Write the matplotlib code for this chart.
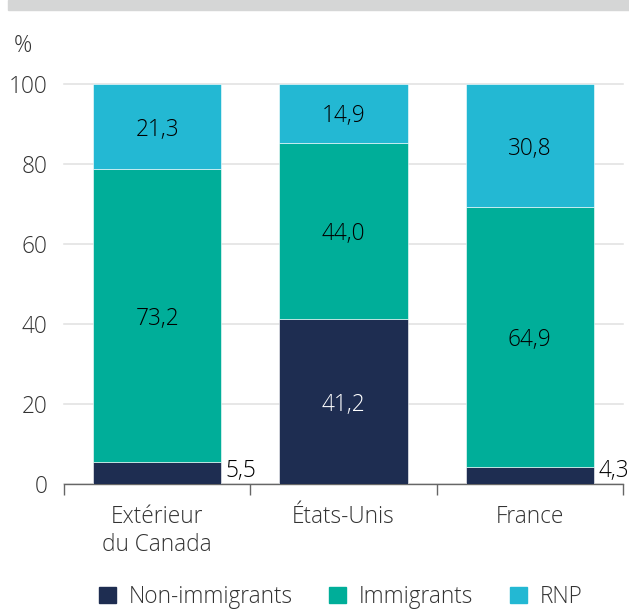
import numpy as np
import matplotlib
matplotlib.use('Agg')
import matplotlib.pyplot as plt
from matplotlib.patches import Patch, Rectangle

plt.rcParams['font.family'] = ['Open Sans', 'DejaVu Sans']
plt.rcParams['font.weight'] = 'light'

categories = ['Extérieur\ndu Canada', 'États-Unis', 'France']
non_immigrants = [5.5, 41.2, 4.3]
immigrants = [73.2, 44.0, 64.9]
rnp = [21.3, 14.9, 30.8]
series_names = ['Non-immigrants', 'Immigrants', 'RNP']

c_navy = '#1e2d51'
c_teal = '#00ae99'
c_cyan = '#23b8d3'

fig = plt.figure(figsize=(6.29, 6.10), dpi=100)
ax = fig.add_axes([64/629, 1-484/610, (623-64)/629, (484-84)/610])

# gray band on top
fig.patches.append(Rectangle((8/629, 1-10/610), 1, 10/610, transform=fig.transFigure,
                             color='#d5d6d6', zorder=0))

x = np.arange(len(categories))
w = 0.69
ax.bar(x, non_immigrants, w, color=c_navy, edgecolor='white', linewidth=0.4, zorder=3)
bottom2 = np.array(non_immigrants)
ax.bar(x, immigrants, w, bottom=bottom2, color=c_teal, edgecolor='white', linewidth=0.4, zorder=3)
bottom3 = bottom2 + np.array(immigrants)
ax.bar(x, rnp, w, bottom=bottom3, color=c_cyan, edgecolor='white', linewidth=0.4, zorder=3)

fs = 16.3
fmt = lambda v: ('%.1f' % v).replace('.', ',')
for i in range(len(categories)):
    v = non_immigrants[i]
    if v < 10:
        # small values sit to the right of the bar
        ax.text(x[i] + w/2 + 0.022, 0.3, fmt(v), ha='left', va='bottom', fontsize=fs,
                color='#000000', zorder=4)
    else:
        ax.text(x[i], v/2, fmt(v), ha='center', va='center_baseline', fontsize=fs, color='white', zorder=4)
    ax.text(x[i], bottom2[i] + immigrants[i]/2, fmt(immigrants[i]), ha='center', va='center_baseline',
            fontsize=fs, color='#000000', zorder=4)
    ax.text(x[i], bottom3[i] + rnp[i]/2, fmt(rnp[i]), ha='center', va='center_baseline',
            fontsize=fs, color='#000000', zorder=4)

ax.set_xlim(-0.5, 2.5)
ax.set_ylim(0, 100)
ax.set_yticks([0, 20, 40, 60, 80, 100])
ax.yaxis.grid(True, color='#e0e0e0', linewidth=1.1, zorder=0)
for gl in ax.get_ygridlines():
    gl.set_clip_on(False)
ax.tick_params(axis='y', length=0, labelsize=fs, labelcolor='#333333', pad=12)

ax.set_xticks(x)
ax.set_xticklabels(categories, fontsize=fs, color='#333333', linespacing=1.25)
ax.set_xticks([-0.5, 0.5, 1.5, 2.5], minor=True)
ax.tick_params(axis='x', which='major', length=0, pad=15)
ax.tick_params(axis='x', which='minor', length=8, color='#666666', width=1)

for s in ['top', 'right', 'left']:
    ax.spines[s].set_visible(False)
ax.spines['bottom'].set_color('#666666')
ax.spines['bottom'].set_linewidth(1)

fig.text(14/629, 1-46/610, '%', fontsize=fs, color='#333333', va='center', ha='left')

handles = [Patch(color=c) for c in [c_navy, c_teal, c_cyan]]
fig.legend(handles, series_names, loc='center left', bbox_to_anchor=(79/629, 1-597/610), ncol=3,
           frameon=False, fontsize=fs, handlelength=0.75, handleheight=0.75,
           columnspacing=1.6, handletextpad=0.56, labelcolor='#333333')

fig.savefig('out.png', dpi=100)
